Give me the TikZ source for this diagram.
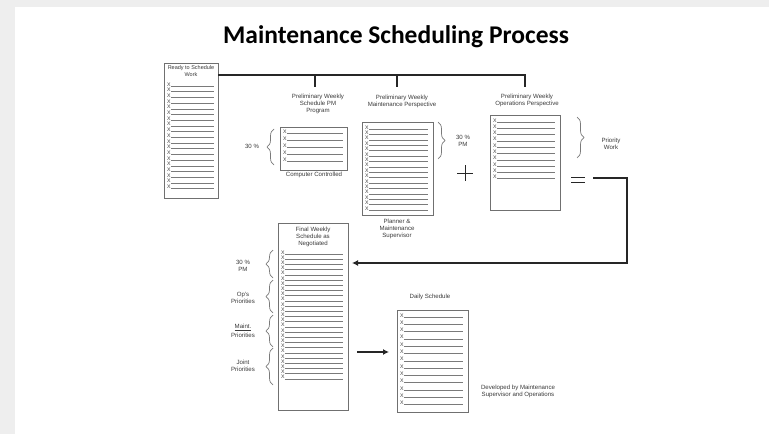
\documentclass[tikz,border=0pt]{standalone}
\usepackage{fontspec}
\setmainfont{Liberation Sans}
\newfontfamily\titlefont{Carlito}
\usetikzlibrary{decorations.pathreplacing,arrows.meta,calc}
\definecolor{bgout}{HTML}{EEEEEE}
\definecolor{boxc}{HTML}{707070}
\definecolor{linec}{HTML}{7A7A7A}
\definecolor{txtc}{HTML}{3A3A3A}
\newcommand\xrows[6]{%
  \foreach \i in {1,...,#6}{
    \pgfmathsetmacro\yy{#4+(\i-1)*#5}
    \node[xl] (#1\i) at (#2,\yy) {X};
    \draw[rowl] (#1\i.base east) -- (#3,\yy);
  }}
\begin{document}
\begin{tikzpicture}[x=1pt,y=-1pt,
  box/.style={draw=boxc, line width=1pt, fill=white, inner sep=0pt, anchor=north west},
  lbl/.style={font=\fontsize{6.1}{7}\selectfont, text=txtc, align=center, inner sep=0pt},
  xl/.style={font=\fontsize{5.2}{5}\selectfont, text=txtc, inner sep=0pt, anchor=base west},
  rowl/.style={draw=linec, line width=0.6pt},
  br/.style={draw=linec, line width=0.7pt, decorate, decoration={brace, amplitude=7pt}},
  conn/.style={draw=black!85, line width=1.4pt},
  arr/.style={conn, -{Latex[length=6pt,width=6pt]}},
]
% background
\fill[bgout] (0,0) rectangle (769,434);
\fill[white] (15,7) rectangle (769,434);
\useasboundingbox (0,0) rectangle (769,434);

% title
\node[font=\titlefont\bfseries\fontsize{25.5}{30}\selectfont, inner sep=0pt] (title) at (396,37) {Maintenance Scheduling Process};

% box 1
\node[box, minimum width=54pt, minimum height=135pt] (b1) at (164,63) {};
\node[lbl, font=\fontsize{5.5}{6.6}\selectfont] (b1l) at (191,71) {Ready to Schedule\\Work};
\xrows{ra}{167}{214}{86}{5.7}{19}

% box 2
\node[box, minimum width=67pt, minimum height=43pt] (b2) at (280,127) {};
\node[lbl] (b2l) at (318,104) {Preliminary Weekly\\Schedule PM\\Program};
\xrows{rb}{283}{343}{133.5}{7}{5}
\node[lbl] (b2c) at (314,175) {Computer Controlled};
\draw[br] (274,165) -- (274,129);
\node[lbl] (b2p) at (252,146) {30 \%};

% box 3
\node[box, minimum width=71pt, minimum height=93pt] (b3) at (362,122) {};
\node[lbl] (b3l) at (402,101) {Preliminary Weekly\\Maintenance Perspective};
\xrows{rc}{365}{428}{129}{5.4}{16}
\node[lbl] (b3c) at (397,229) {Planner \&\\Maintenance\\Supervisor};
\draw[br] (438,122) -- (438,159);
\node[lbl] (b3p) at (463,141) {30 \%\\PM};
\node (plus) at (465,173) {};
\draw[black!85, line width=1pt] ($(plus)+(-8,0)$) -- ($(plus)+(8,0)$) ($(plus)+(0,-8)$) -- ($(plus)+(0,8)$);

% box 4
\node[box, minimum width=70pt, minimum height=95pt] (b4) at (490,115) {};
\node[lbl] (b4l) at (527,100) {Preliminary Weekly\\Operations Perspective};
\xrows{rd}{493}{555}{122}{6.3}{10}
\draw[br] (577,117) -- (577,158);
\node[lbl] (b4p) at (611,144) {Priority\\Work};
\draw[conn, line width=1.7pt] (571,177.5) -- (585,177.5) (571,182.5) -- (585,182.5);

% box 5
\node[box, minimum width=70pt, minimum height=187pt] (b5) at (278,223) {};
\node[lbl] (b5l) at (313,237) {Final Weekly\\Schedule as\\Negotiated};
\xrows{re}{281}{343}{254}{5.2}{25}
\draw[br] (273,278) -- (273,250);
\draw[br] (273,313) -- (273,280);
\draw[br] (273,347) -- (273,315);
\draw[br] (273,385) -- (273,348);
\node[lbl] (p1) at (243,266) {30 \%\\PM};
\node[lbl] (p2) at (243,298) {Op's\\Priorities};
\node[lbl] (p3) at (243,331) {\underline{Maint.}\\[1.5pt]Priorities};
\node[lbl] (p4) at (243,366) {Joint\\Priorities};

% box 6
\node[box, minimum width=71pt, minimum height=102pt] (b6) at (397,310) {};
\node[lbl] (b6l) at (430,297) {Daily Schedule};
\xrows{rf}{400}{463}{317}{7.3}{13}
\node[lbl] (b6c) at (518,391) {Developed by Maintenance\\Supervisor and Operations};

% connectors
\coordinate (t1) at (218,75);
\coordinate (t2) at (525,75);
\coordinate (d1) at (315,75);
\coordinate (d1e) at (315,87);
\coordinate (d2) at (397,75);
\coordinate (d2e) at (397,87);
\coordinate (d3e) at (525,87);
\draw[conn] (t1) -- (t2) -- (d3e);
\draw[conn] (d1) -- (d1e);
\draw[conn] (d2) -- (d2e);

\coordinate (e1) at (593,178);
\coordinate (e2) at (627,178);
\coordinate (e3) at (627,263);
\coordinate (e4) at (352,263);
\draw[arr] (e1) -- (e2) -- (e3) -- (e4);

\coordinate (f1) at (357,352);
\coordinate (f2) at (389,352);
\draw[arr] (f1) -- (f2);
\end{tikzpicture}
\end{document}
